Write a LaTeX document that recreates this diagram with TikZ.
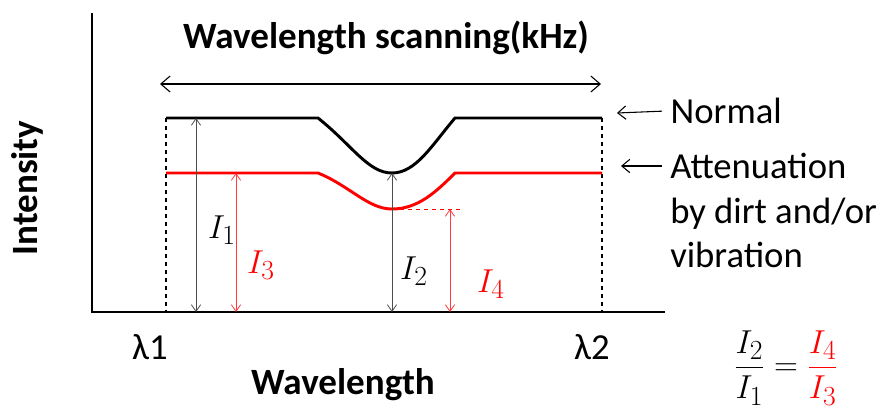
\documentclass[tikz,border=0pt]{standalone}
\usepackage{amsmath}
\usepackage{fontspec}
\setmainfont{Carlito}
\usepackage{tikz}
\usetikzlibrary{positioning,arrows.meta,calc}
\definecolor{dimgray}{HTML}{4D4D4D}
\definecolor{pinkred}{HTML}{FF3B3B}

\begin{document}
\begin{tikzpicture}[x=0.75pt,y=-0.75pt,
    axisline/.style={line width=2.2pt,black},
    curveline/.style={line width=2.2pt},
    guide/.style={dashed,line width=0.9pt},
    dimarrow/.style={{Straight Barb[length=5pt,width=7pt]}-{Straight Barb[length=5pt,width=7pt]},line width=0.6pt,dimgray},
    reddim/.style={{Straight Barb[length=5pt,width=7pt]}-{Straight Barb[length=5pt,width=7pt]},line width=0.6pt,pinkred},
    pointer/.style={{Straight Barb[length=6pt,width=10pt]}-,line width=0.8pt},
    bigtext/.style={font=\fontsize{27.5}{33.5}\selectfont},
    boldtext/.style={font=\fontsize{27.8}{33}\selectfont\bfseries},
    mathlabel/.style={font=\fontsize{29}{34}\selectfont}]
  \useasboundingbox (0,0) rectangle (883,412);

  % axes
  \coordinate (origin) at (92,312);
  \coordinate (ytop) at (92,13);
  \coordinate (xend) at (665,312);
  \draw[axisline] (ytop) -- (origin) -- (xend);

  % scan limits
  \coordinate (l1top) at (166,118);
  \coordinate (l1bot) at (166,312);
  \coordinate (l2top) at (602,118);
  \coordinate (l2bot) at (602,312);
  \draw[guide] (l1top) -- (l1bot);
  \draw[guide] (l2top) -- (l2bot);

  % normal and attenuated spectra
  \draw[curveline,black] (l1top) -- (318,118)
    .. controls (352,145) and (368,173) .. (392,173) coordinate (blackmin)
    .. controls (416,173) and (432,145) .. (455,118) -- (l2top);
  \draw[curveline,red] (166,173) coordinate (redleft) -- (318,173)
    .. controls (350,186) and (368,209) .. (392,209) coordinate (redmin)
    .. controls (418,209) and (436,192) .. (455,173) -- (602,173) coordinate (redright);
  \coordinate (redmark) at (460,209);
  \draw[red,dashed,line width=0.6pt] (redmin) -- (redmark);

  % intensity arrows
  \coordinate (i1top) at (196,118);
  \coordinate (i1bot) at (196,312);
  \coordinate (i3top) at (236,173);
  \coordinate (i3bot) at (236,312);
  \coordinate (i2bot) at (392,312);
  \coordinate (i4top) at (450,209);
  \coordinate (i4bot) at (450,312);
  \draw[dimarrow] (i1top) -- (i1bot);
  \draw[reddim] (i3top) -- (i3bot);
  \draw[dimarrow] (blackmin) -- (i2bot);
  \draw[reddim] (i4top) -- (i4bot);
  \node[mathlabel] (labi1) at (222,230) {$I_1$};
  \node[mathlabel,red] (labi3) at (261,265) {$I_3$};
  \node[mathlabel] (labi2) at (414,271) {$I_2$};
  \node[mathlabel,red] (labi4) at (491,284) {$I_4$};

  % scanning range
  \node[boldtext] (title) at (386,38) {Wavelength scanning(kHz)};
  \coordinate (scanl) at (160,84);
  \coordinate (scanr) at (601,84);
  \draw[{Straight Barb[length=7pt,width=12pt]}-{Straight Barb[length=7pt,width=12pt]},line width=0.8pt] (scanl) -- (scanr);

  % legends
  \node[bigtext,anchor=west] (normal) at (666,111) {Normal};
  \coordinate (normtip) at (617,113);
  \draw[pointer,shorten >=3pt] (normtip) -- (normal.west);
  \node[bigtext,anchor=north west,align=left,inner sep=0pt] (atten) at (670,153)
    {Attenuation\\by dirt and/or\\vibration};
  \coordinate (atttip) at (621,166);
  \draw[pointer,shorten >=6pt] (atttip) -- (atttip -| atten.west);

  % axis labels
  \node[bigtext] (lam1) at (150,347) {λ1};
  \node[bigtext] (lam2) at (592,347) {λ2};
  \node[boldtext] (xlabel) at (343,385) {Wavelength};
  \node[boldtext,rotate=90] (ylabel) at (27,188) {Intensity};

  % ratio
  \node[mathlabel] (ratio) at (786,368) {$\dfrac{I_2}{I_1}=\textcolor{red}{\dfrac{I_4}{I_3}}$};
\end{tikzpicture}
\end{document}
